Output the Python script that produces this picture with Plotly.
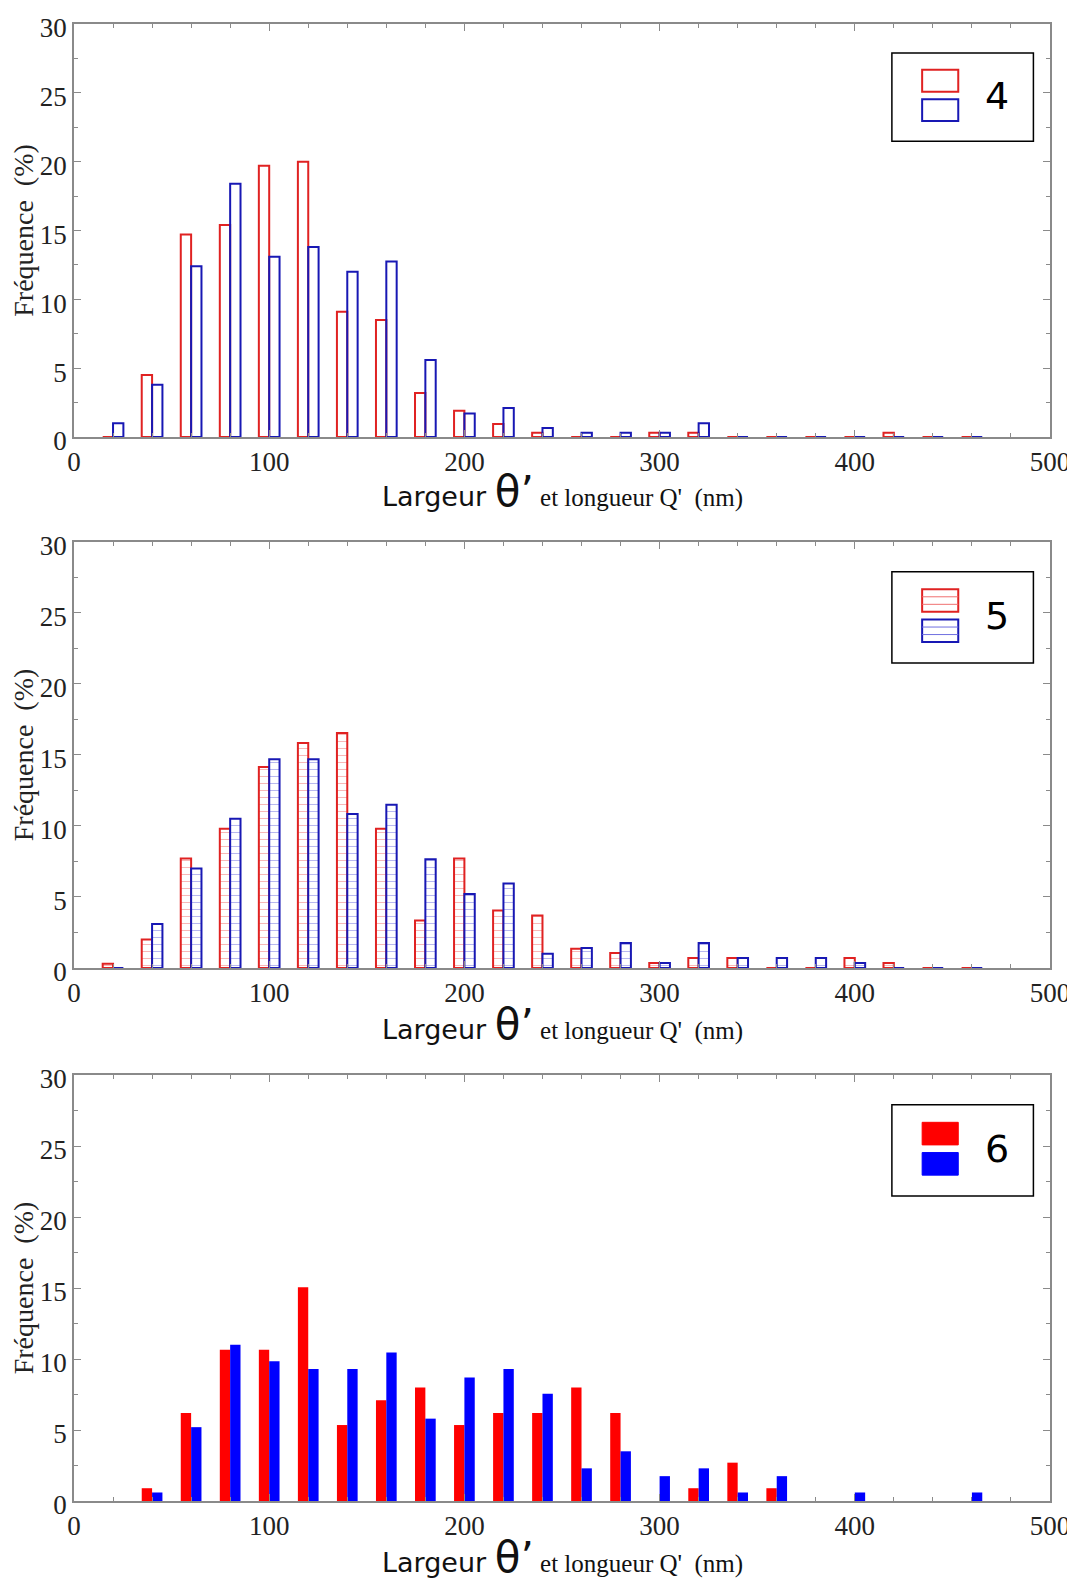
import plotly.graph_objects as go
from plotly.subplots import make_subplots

bins = [20, 40, 60, 80, 100, 120, 140, 160, 180, 200, 220, 240,
        260, 280, 300, 320, 340, 360, 380, 400, 420, 440, 460]

p4_red = [0, 4.5, 14.7, 15.4, 19.7, 20.0, 9.1, 8.5, 3.2, 1.9, 0.95, 0.3,
          0, 0, 0.3, 0.3, 0, 0, 0, 0, 0.3, 0, 0]
p4_blue = [1.0, 3.8, 12.4, 18.4, 13.1, 13.8, 12.0, 12.75, 5.6, 1.7, 2.1, 0.65,
           0.3, 0.3, 0.3, 1.0, 0, 0, 0, 0, 0, 0, 0]

p5_red = [0.3, 2.0, 7.7, 9.8, 14.15, 15.85, 16.55, 9.8, 3.35, 7.7, 4.05, 3.7,
          1.35, 1.05, 0.35, 0.7, 0.7, 0, 0, 0.7, 0.35, 0, 0]
p5_blue = [0, 3.1, 7.0, 10.5, 14.7, 14.7, 10.85, 11.5, 7.65, 5.2, 5.95, 1.0,
           1.4, 1.75, 0.35, 1.75, 0.7, 0.7, 0.7, 0.35, 0, 0, 0]

p6_red = [0, 0.9, 6.2, 10.65, 10.65, 15.05, 5.35, 7.1, 8.0, 5.35, 6.2, 6.2,
          8.0, 6.2, 0, 0.9, 2.7, 0.9, 0, 0, 0, 0, 0]
p6_blue = [0, 0.6, 5.2, 11.0, 9.85, 9.3, 9.3, 10.45, 5.8, 8.7, 9.3, 7.55,
           2.3, 3.5, 1.75, 2.3, 0.6, 1.75, 0, 0.6, 0, 0, 0.6]

labels = ['4', '5', '6']
y_ticks = [0, 5, 10, 15, 20, 25, 30]
x_ticks = [0, 100, 200, 300, 400, 500]

RED = '#e02222'
BLUE = '#1818b4'

fig = make_subplots(rows=3, cols=1)

# panel 1 : hollow bars
fig.add_trace(go.Bar(x=bins, y=p4_red, marker=dict(color='rgba(0,0,0,0)', line=dict(color=RED, width=2))), row=1, col=1)
fig.add_trace(go.Bar(x=bins, y=p4_blue, marker=dict(color='rgba(0,0,0,0)', line=dict(color=BLUE, width=2))), row=1, col=1)

# panel 2 : hatched bars
fig.add_trace(go.Bar(x=bins, y=p5_red, marker=dict(
    color='white', line=dict(color=RED, width=2),
    pattern=dict(shape='-', fgcolor='#f07070', bgcolor='white', size=7, solidity=0.15))), row=2, col=1)
fig.add_trace(go.Bar(x=bins, y=p5_blue, marker=dict(
    color='white', line=dict(color=BLUE, width=2),
    pattern=dict(shape='-', fgcolor='#7070e0', bgcolor='white', size=7, solidity=0.15))), row=2, col=1)

# panel 3 : solid bars
fig.add_trace(go.Bar(x=bins, y=p6_red, marker=dict(color='#ff0000', line=dict(width=0))), row=3, col=1)
fig.add_trace(go.Bar(x=bins, y=p6_blue, marker=dict(color='#0000ff', line=dict(width=0))), row=3, col=1)

xtitle = ('<span style="font-family:\'DejaVu Sans\';font-size:27px">Largeur </span>'
          '<span style="font-family:\'DejaVu Sans\';font-size:42px">θ’</span>'
          '<span style="font-family:\'Liberation Serif\';font-size:25px"> et longueur Q\'  (nm)</span>')

domains = [[0.7204, 1.0], [0.3609, 0.6493], [0.0, 0.2884]]
for i in range(3):
    r = i + 1
    fig.update_xaxes(
        row=r, col=1, range=[0, 500], tickvals=x_ticks, automargin=False,
        showline=True, linecolor='#8a8a8a', linewidth=1.5, mirror='ticks',
        ticks='inside', ticklen=7, tickcolor='#8a8a8a',
        minor=dict(dtick=20, tick0=0, ticks='inside', ticklen=4, tickcolor='#8a8a8a'),
        showgrid=False, zeroline=False, ticklabeloverflow='allow',
        tickfont=dict(family='Liberation Serif', size=27, color='#222'),
    )
    fig.update_yaxes(
        row=r, col=1, range=[0, 30], tickvals=y_ticks, domain=domains[i], automargin=False,
        showline=True, linecolor='#8a8a8a', linewidth=1.5, mirror='ticks',
        ticks='inside', ticklen=7, tickcolor='#8a8a8a',
        minor=dict(dtick=2.5, tick0=0, ticks='inside', ticklen=4, tickcolor='#8a8a8a'),
        showgrid=False, zeroline=False, ticklabeloverflow='allow', ticklabelshift=4,
        tickfont=dict(family='Liberation Serif', size=27, color='#222'),
        title=dict(text='Fréquence  (%)', font=dict(family='Liberation Serif', size=28, color='#222'), standoff=4),
    )

# legend boxes and x titles drawn in each panel
shapes = []
annotations = []
for i in range(3):
    sfx = '' if i == 0 else str(i + 1)
    xr = 'x' + sfx + ' domain'
    yr = 'y' + sfx + ' domain'
    shapes.append(dict(type='rect', xref=xr, yref=yr, x0=0.838, x1=0.983, y0=0.716, y1=0.93,
                       line=dict(color='black', width=1.5), fillcolor='white', layer='above'))
    for (ya, yb, col) in [(0.836, 0.889, RED), (0.765, 0.818, BLUE)]:
        if i == 2:
            fill = '#ff0000' if col == RED else '#0000ff'
            shapes.append(dict(type='rect', xref=xr, yref=yr, x0=0.869, x1=0.906, y0=ya, y1=yb,
                               line=dict(color=fill, width=1), fillcolor=fill, layer='above'))
        else:
            shapes.append(dict(type='rect', xref=xr, yref=yr, x0=0.869, x1=0.906, y0=ya, y1=yb,
                               line=dict(color=col, width=2), fillcolor='white', layer='above'))
            if i == 1:
                for k in (1, 2):
                    yy = ya + (yb - ya) * k / 3
                    shapes.append(dict(type='line', xref=xr, yref=yr, x0=0.869, x1=0.906, y0=yy, y1=yy,
                                       line=dict(color='#f07070' if col == RED else '#7070e0', width=1),
                                       layer='above'))
    annotations.append(dict(text=labels[i], xref=xr, yref=yr, x=0.946, y=0.826,
                            xanchor='center', yanchor='middle', showarrow=False,
                            font=dict(family='DejaVu Sans', size=38, color='black')))
    annotations.append(dict(text=xtitle, xref=xr, yref=yr, x=0.5, y=-0.132,
                            xanchor='center', yanchor='middle', showarrow=False,
                            font=dict(family='Liberation Serif', size=25, color='#111')))

fig.update_layout(
    width=1067, height=1578,
    margin=dict(l=66, r=25, t=16, b=85),
    barmode='group', bargap=0.47, bargroupgap=0,
    showlegend=False,
    plot_bgcolor='white', paper_bgcolor='white',
    shapes=shapes, annotations=annotations,
)

fig.write_html("out.html")
